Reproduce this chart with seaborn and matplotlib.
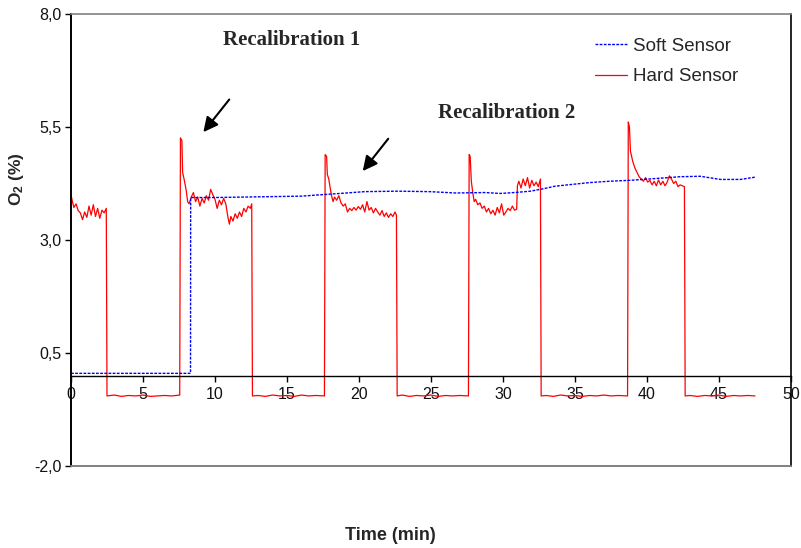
import matplotlib
matplotlib.use("Agg")
import matplotlib.pyplot as plt
import seaborn as sns
import pandas as pd

# ---------------- data ----------------
hard_time = [
    0.0, 0.1, 0.2, 0.35, 0.5, 0.65, 0.8, 0.95, 1.1, 1.25, 1.4, 1.55, 1.7, 1.85, 2.0, 2.15, 2.3, 2.45,
    2.5, 3.0, 3.5, 4.0, 4.5, 5.0, 5.5, 6.0, 6.5, 7.0, 7.55,
    7.6, 7.7, 7.75, 7.85, 8.0, 8.1, 8.2, 8.35, 8.5, 8.65, 8.8, 8.95, 9.1, 9.25, 9.4, 9.55, 9.7, 9.85,
    10.0, 10.15, 10.3, 10.45, 10.6, 10.75, 10.9, 11.0, 11.1, 11.25, 11.4, 11.55, 11.7, 11.85, 12.0,
    12.15, 12.3, 12.45, 12.55,
    12.6, 13.0, 13.5, 14.0, 14.5, 15.0, 15.5, 16.0, 16.5, 17.0, 17.6,
    17.65, 17.75, 17.8, 17.9, 18.0, 18.1, 18.2, 18.3, 18.45, 18.6, 18.75, 18.9, 19.05, 19.2, 19.35,
    19.5, 19.65, 19.8, 19.95, 20.1, 20.25, 20.4, 20.55, 20.7, 20.85, 21.0, 21.15, 21.3, 21.45, 21.6,
    21.75, 21.9, 22.05, 22.2, 22.35, 22.5, 22.6,
    22.65, 23.0, 23.5, 24.0, 24.5, 25.0, 25.5, 26.0, 26.5, 27.0, 27.6,
    27.65, 27.72, 27.8, 27.9, 28.0, 28.1, 28.25, 28.4, 28.55, 28.7, 28.85, 29.0, 29.15, 29.3, 29.45,
    29.6, 29.75, 29.9, 30.05, 30.2, 30.35, 30.5, 30.65, 30.8, 30.95, 31.0, 31.1, 31.25, 31.4, 31.55,
    31.7, 31.85, 32.0, 32.15, 32.3, 32.45, 32.6,
    32.65, 33.0, 33.5, 34.0, 34.5, 35.0, 35.5, 36.0, 36.5, 37.0, 37.5, 38.0, 38.65,
    38.7, 38.78, 38.85, 39.0, 39.15, 39.3, 39.45, 39.6, 39.75, 39.9, 40.05, 40.2, 40.35, 40.5, 40.65,
    40.8, 40.95, 41.1, 41.25, 41.4, 41.55, 41.7, 41.85, 42.0, 42.15, 42.3, 42.45, 42.6,
    42.65, 43.0, 43.5, 44.0, 44.5, 45.0, 45.5, 46.0, 46.5, 47.0, 47.5,
]
hard_o2 = [
    4.0, 3.85, 3.72, 3.80, 3.65, 3.60, 3.45, 3.62, 3.50, 3.75, 3.55, 3.78, 3.52, 3.70, 3.48, 3.66, 3.60, 3.70,
    -0.45, -0.43, -0.46, -0.44, -0.45, -0.43, -0.46, -0.45, -0.44, -0.45, -0.43,
    5.26, 5.20, 4.50, 4.35, 4.10, 3.85, 3.80, 3.95, 4.05, 3.85, 3.95, 3.75, 3.92, 3.82, 3.98, 3.88, 4.12, 4.00,
    3.90, 3.70, 3.88, 3.78, 3.92, 3.80, 3.50, 3.35, 3.52, 3.42, 3.58, 3.48, 3.62, 3.52, 3.70,
    3.62, 3.75, 3.70, 3.80,
    -0.45, -0.44, -0.46, -0.43, -0.45, -0.44, -0.46, -0.43, -0.45, -0.44, -0.45,
    4.89, 4.85, 4.45, 4.35, 4.15, 3.97, 3.85, 3.95, 3.88, 3.98, 3.82, 3.75, 3.80, 3.62, 3.70,
    3.65, 3.72, 3.66, 3.74, 3.68, 3.78, 3.62, 3.85, 3.66, 3.72, 3.60, 3.70, 3.62, 3.55, 3.65,
    3.52, 3.60, 3.50, 3.58, 3.52, 3.62, 3.55,
    -0.45, -0.43, -0.46, -0.44, -0.45, -0.43, -0.46, -0.44, -0.45, -0.44, -0.45,
    4.89, 4.85, 4.30, 4.05, 3.85, 3.90, 3.78, 3.82, 3.70, 3.75, 3.62, 3.70, 3.58, 3.66, 3.55,
    3.72, 3.60, 3.80, 3.55, 3.62, 3.70, 3.65, 3.75, 3.66, 3.68, 4.20, 4.30, 4.15, 4.35, 4.20,
    4.38, 4.15, 4.32, 4.20, 4.28, 4.18, 4.35,
    -0.45, -0.44, -0.46, -0.43, -0.45, -0.44, -0.46, -0.44, -0.45, -0.43, -0.45, -0.44, -0.45,
    5.61, 5.50, 4.97, 4.75, 4.60, 4.50, 4.40, 4.35, 4.30, 4.38, 4.28, 4.32, 4.22, 4.30, 4.20,
    4.33, 4.22, 4.30, 4.20, 4.28, 4.42, 4.35, 4.25, 4.30, 4.18, 4.22, 4.20, 4.18,
    -0.45, -0.44, -0.46, -0.44, -0.45, -0.43, -0.46, -0.44, -0.45, -0.44, -0.45,
]
soft_time = [0.0, 8.3, 8.31, 10.0, 12.0, 14.0, 16.0, 17.3, 18.7, 20.4, 22.7, 24.9, 26.7, 28.75,
             29.8, 30.8, 31.9, 32.9, 33.6, 36.0, 37.4, 38.8, 40.6, 42.3, 43.7, 45.1, 46.5, 47.5]
soft_o2 = [0.05, 0.05, 3.94, 3.94, 3.95, 3.96, 3.97, 4.00, 4.03, 4.07, 4.08, 4.07, 4.04, 4.05,
           4.03, 4.05, 4.08, 4.14, 4.19, 4.27, 4.30, 4.32, 4.36, 4.40, 4.41, 4.34, 4.34, 4.39]

x_ticks = [0, 5, 10, 15, 20, 25, 30, 35, 40, 45, 50]
y_ticks = [-2.0, 0.5, 3.0, 5.5, 8.0]
y_tick_labels = ["-2,0", "0,5", "3,0", "5,5", "8,0"]
series_names = ["Soft Sensor", "Hard Sensor"]
notes = ["Recalibration 1", "Recalibration 2"]

# ---------------- style ----------------
sns.set_style("white")
plt.rcParams["font.family"] = ["Liberation Sans", "DejaVu Sans"]
plt.rcParams["mathtext.fontset"] = "custom"
plt.rcParams["mathtext.bf"] = "Liberation Sans:bold"
plt.rcParams["mathtext.rm"] = "Liberation Sans"

fig = plt.figure(figsize=(8.01, 5.48), dpi=100)
ax = fig.add_axes([71 / 801, 1 - 466 / 548, 720 / 801, 452 / 548])

hard_df = pd.DataFrame({"t": hard_time, "o2": hard_o2})
soft_df = pd.DataFrame({"t": soft_time, "o2": soft_o2})

sns.lineplot(data=hard_df, x="t", y="o2", estimator=None, sort=False, color="#ff0000",
             lw=0.9, ax=ax, label=series_names[1])
sns.lineplot(data=soft_df, x="t", y="o2", estimator=None, sort=False, color="#0000ff",
             lw=1.0, linestyle=(0, (2, 1)), ax=ax, label=series_names[0])

ax.set_xlim(0, 50)
ax.set_ylim(-2, 8)
ax.set_xticks(x_ticks)
ax.set_xticklabels([str(v) for v in x_ticks])
ax.set_yticks(y_ticks)
ax.set_yticklabels(y_tick_labels)

# spines: x axis crosses at 0, box around plot area
ax.spines["bottom"].set_position(("data", 0))
ax.spines["bottom"].set_color("black")
ax.spines["bottom"].set_linewidth(1.0)
ax.spines["left"].set_color("black")
ax.spines["left"].set_linewidth(1.4)
ax.spines["top"].set_color("#808080")
ax.spines["top"].set_linewidth(1.2)
ax.spines["right"].set_color("black")
ax.spines["right"].set_linewidth(1.2)
ax.axhline(-2, color="#808080", lw=1.4, clip_on=False, zorder=5)

ax.tick_params(axis="both", direction="out", length=4.5, width=1, color="black",
               labelsize=11.5, labelcolor="#111111")
ax.tick_params(axis="x", pad=4)
ax.tick_params(axis="y", pad=2.5)
ax.tick_params(left=True, bottom=True)

ax.set_xlabel("Time (min)", fontsize=13, fontweight="bold")
ax.xaxis.set_label_coords(0.444, -0.134)
ax.set_ylabel(r"$\mathbf{O_2}$ $\mathbf{(\%)}$", fontsize=12.5, fontweight="bold")
ax.yaxis.set_label_coords(-0.062, 0.634)

# annotations
ax.text(15.33, 7.43, notes[0], ha="center", va="center", fontsize=15, fontweight="bold",
        family=["Liberation Serif", "DejaVu Serif"])
ax.text(30.28, 5.80, notes[1], ha="center", va="center", fontsize=15, fontweight="bold",
        family=["Liberation Serif", "DejaVu Serif"])
arrow = dict(arrowstyle="-|>", color="black", lw=1.5, mutation_scale=22, shrinkA=0, shrinkB=0)
ax.annotate("", xy=(9.19, 5.386), xytext=(10.99, 6.108), arrowprops=arrow)
ax.annotate("", xy=(20.26, 4.525), xytext=(22.03, 5.24), arrowprops=arrow)

# legend
handles, labels = ax.get_legend_handles_labels()
order = [labels.index(n) for n in series_names]
ax.legend([handles[i] for i in order], [labels[i] for i in order],
          loc="upper left", bbox_to_anchor=(0.728, 0.948), frameon=False,
          fontsize=13.5, handlelength=1.7, handletextpad=0.3, labelspacing=0.72,
          borderpad=0, borderaxespad=0)

fig.savefig("out.png", dpi=100)
